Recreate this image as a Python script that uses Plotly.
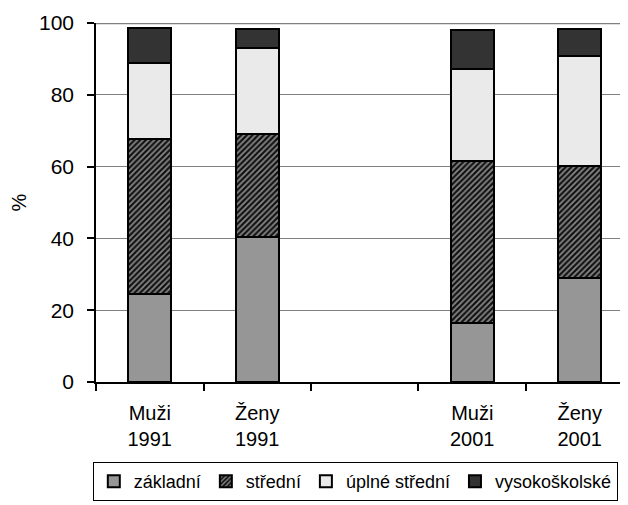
import plotly.graph_objects as go

categories = ["Muži<br>1991", "Ženy<br>1991", " ", "Muži<br>2001", "Ženy<br>2001"]
zakladni = [24.5, 40.5, None, 16.3, 28.9]
stredni = [43.2, 28.6, None, 45.4, 31.3]
uplne_stredni = [21.2, 24.0, None, 25.4, 30.7]
vysokoskolske = [9.6, 5.2, None, 10.9, 7.3]
series_names = ["základní", "střední", "úplné střední", "vysokoškolské"]
y_ticks = [0, 20, 40, 60, 80, 100]

FONT = "Liberation Sans, Arial, sans-serif"
line = dict(color="black", width=2)

fig = go.Figure()
fig.add_trace(go.Bar(x=categories, y=zakladni, name=series_names[0],
                     marker=dict(color="#969696", line=line)))
fig.add_trace(go.Bar(x=categories, y=stredni, name=series_names[1],
                     marker=dict(color="#111111", line=line,
                                 pattern=dict(shape="/", fgcolor="white", bgcolor="#111111",
                                              size=4, solidity=0.45, fillmode="overlay"))))
fig.add_trace(go.Bar(x=categories, y=uplne_stredni, name=series_names[2],
                     marker=dict(color="#eaeaea", line=line)))
fig.add_trace(go.Bar(x=categories, y=vysokoskolske, name=series_names[3],
                     marker=dict(color="#333333", line=line)))

fig.update_layout(
    barmode="stack",
    bargap=0.6,
    width=620, height=497,
    margin=dict(l=88, r=0, t=15, b=123, autoexpand=False),
    paper_bgcolor="white", plot_bgcolor="white",
    font=dict(family=FONT, size=20, color="black"),
    showlegend=True,
    legend=dict(orientation="h", x=-0.006, xanchor="left",
                y=-0.223, yanchor="top",
                bordercolor="black", borderwidth=1, font=dict(size=18),
                traceorder="normal", itemwidth=30, tracegroupgap=0),
    xaxis=dict(type="category", range=[-0.5, 4.449], tickson="boundaries",
               ticks="outside", ticklen=7, tickcolor="black", tickwidth=1.5,
               showline=True, linecolor="black", linewidth=1.5,
               showgrid=False, tickfont=dict(size=20), ticklabelstandoff=12),
    yaxis=dict(range=[0, 100], tickvals=y_ticks, ticks="outside", ticklen=7,
               tickcolor="black", tickwidth=1.5, showline=True, linecolor="black", linewidth=1.5,
               showgrid=True, gridcolor="#808080", gridwidth=1,
               title=dict(text="%", standoff=26, font=dict(size=20)),
               tickfont=dict(size=21), ticklabelstandoff=9),
    shapes=[dict(type="line", xref="paper", yref="y", x0=0, x1=1, y0=100, y1=100,
                 line=dict(color="#808080", width=2.5), layer="below")],
)

fig.write_html("out.html")
